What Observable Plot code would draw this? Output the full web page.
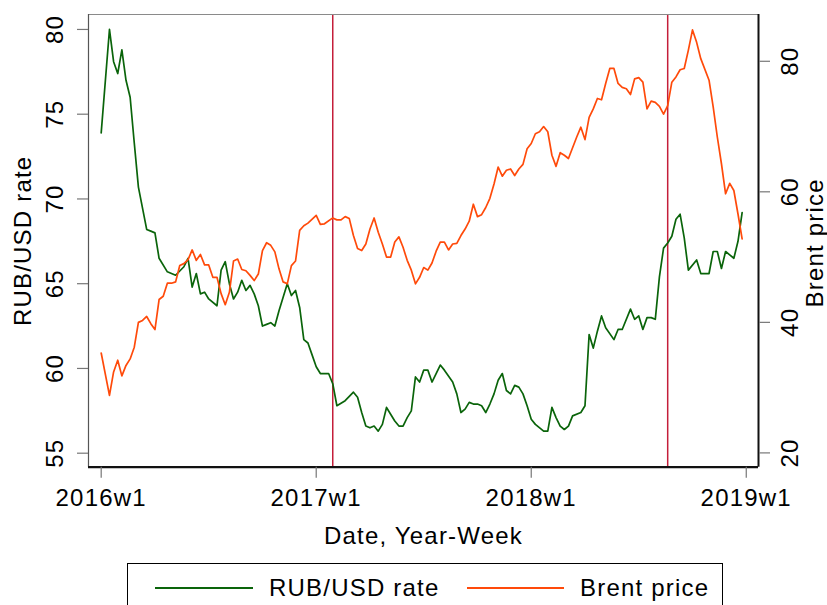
<!DOCTYPE html>
<html><head><meta charset="utf-8">
<script src="https://cdn.jsdelivr.net/npm/d3@7"></script>
<script src="https://cdn.jsdelivr.net/npm/@observablehq/plot@0.6"></script>
<style>
html,body{margin:0;padding:0;background:#fff;overflow:hidden;width:827px;height:605px;}
#chart{position:absolute;left:0;top:0;}
#legend{position:absolute;left:127px;top:563px;width:596px;height:54px;border:1px solid #000;box-sizing:border-box;background:#fff;
  font-family:"Liberation Sans",Arial,sans-serif;font-size:24px;letter-spacing:1.2px;color:#000;}
.sw{position:absolute;top:23px;height:2px;}
.lb{position:absolute;top:10px;line-height:28px;white-space:nowrap;}
</style></head><body>
<div id="chart"></div>
<div id="legend"></div>
<script>
// ---- data (week index: 0 = 2016w1, 52 weeks per year) ----
const rubWeeks = [0,2,3,4,5,6,7,8,9,11,12,13,14,16,17,18,20,21,22,23,24,25,26,28,29,30,31,32,33,34,35,36,37,38,39,40,41,42,43,44,45,46,47,48,49,50,51,52,53,54,55,56,57,59,61,62,63,64,65,66,67,68,69,70,71,72,73,74,75,76,77,78,79,80,81,82,83,85,86,87,88,89,90,91,92,93,94,95,96,97,98,99,100,101,102,103,104,105,107,108,109,110,111,112,113,114,116,117,118,119,120,121,122,124,125,126,128,129,130,131,132,133,134,135,136,137,138,139,140,141,142,144,145,147,148,149,150,151,152,153,154,155];
const rubRate = [73.9,80.0,78.1,77.4,78.8,77.0,76.0,73.3,70.7,68.2,68.1,68.0,66.5,65.7,65.6,65.5,66.0,66.5,64.8,65.6,64.4,64.5,64.1,63.7,65.8,66.3,65.0,64.1,64.5,65.2,64.6,64.9,64.4,63.7,62.5,62.6,62.7,62.5,63.4,64.2,65.0,64.3,64.6,63.6,61.7,61.5,60.8,60.1,59.7,59.7,59.7,59.1,57.8,58.1,58.6,58.3,57.4,56.6,56.5,56.6,56.3,56.7,57.7,57.3,56.9,56.6,56.6,57.1,57.5,59.5,59.2,59.9,59.9,59.2,59.7,60.2,59.9,59.2,58.5,57.4,57.6,58.0,57.9,57.9,57.8,57.4,57.9,58.5,59.3,59.7,58.7,58.5,59.0,58.9,58.5,57.8,57.0,56.7,56.3,56.3,57.7,57.1,56.6,56.4,56.6,57.2,57.4,57.8,62.0,61.2,62.2,63.1,62.4,61.7,62.3,62.3,63.5,62.9,63.1,62.3,63.0,63.0,62.9,65.4,67.1,67.4,67.8,68.8,69.1,67.7,65.8,66.4,65.6,65.6,66.9,66.9,65.9,66.9,66.7,66.5,67.5,69.2];
const brentWeeks = [0,2,3,4,5,6,7,8,9,10,11,12,13,14,15,16,17,18,19,20,21,22,23,24,25,26,27,28,29,30,31,32,33,34,35,36,37,38,39,40,41,42,43,44,45,46,47,48,49,50,52,53,54,56,57,58,59,60,61,62,63,64,65,66,67,68,69,70,71,72,73,74,75,76,77,78,79,80,81,82,83,84,85,86,87,88,89,90,91,92,93,94,95,96,97,98,99,100,101,102,103,104,105,106,107,108,109,110,111,112,113,115,116,117,118,119,120,121,122,123,124,125,126,127,128,129,130,131,132,133,134,135,136,137,138,139,140,141,142,143,144,145,147,148,149,150,151,152,153,154,155];
const brentPrice = [35.3,28.8,32.4,34.2,31.8,33.4,34.4,36.2,40.0,40.3,40.9,39.8,38.9,43.5,44.0,46.0,46.0,46.2,48.7,49.0,49.6,51.1,49.5,50.4,48.8,48.8,46.9,46.9,44.4,42.7,44.6,49.4,49.7,48.1,47.9,47.2,46.4,47.4,51.0,52.2,51.8,50.8,48.2,46.2,45.9,48.7,49.4,54.1,54.8,55.2,56.4,55.0,55.1,56.0,55.7,55.7,56.2,55.9,53.3,51.3,51.0,52.0,54.3,56.0,53.8,52.0,50.0,50.0,52.3,53.1,51.5,49.5,48.0,45.9,46.9,48.4,48.0,49.1,50.9,52.3,52.3,51.1,52.0,52.1,53.3,54.3,55.5,58.1,56.2,56.5,57.6,59.0,61.2,63.8,62.4,63.3,63.5,62.5,63.5,64.2,66.6,67.4,68.9,69.2,70.0,69.2,65.6,63.9,66.0,65.6,65.1,68.4,69.9,68.0,71.4,72.7,74.3,74.1,76.6,78.9,78.9,76.6,76.0,75.8,74.9,77.3,77.5,76.8,72.7,73.9,73.7,73.1,71.9,73.2,76.8,77.6,78.7,78.9,81.7,84.8,82.9,80.4,77.1,73.0,68.4,64.3,59.7,61.3,60.2,56.6,52.8];
const xTickWeeks = [0,52,104,156];
const xTickLabels = ["2016w1","2017w1","2018w1","2019w1"];
const rubTicks = [55,60,65,70,75,80];
const brentTicks = [20,40,60,80];
const eventWeeks = [56,137];
const seriesNames = ["RUB/USD rate","Brent price"];
const seriesColors = ["#0a640a","#ff4a0a"];

// ---- layout ----
const W = 827, H = 560;
const xDom = [-3.07, 158.96];
const yDom = [54.174, 80.882];
const bDom = [17.809, 87.167];
const toR = b => yDom[0] + (b - bDom[0]) * (yDom[1] - yDom[0]) / (bDom[1] - bDom[0]);
const FONT = "Liberation Sans, Arial, sans-serif";
const T = {fontSize: 24, fontFamily: FONT, fill: "#000", textAnchor: "middle", lineAnchor: "middle"};

const rubData = rubWeeks.map((t, i) => ({t, v: rubRate[i]}));
const brentData = brentWeeks.map((t, i) => ({t, v: brentPrice[i]}));

const chart = Plot.plot({
  width: W, height: H,
  marginLeft: 88, marginRight: 69, marginTop: 14, marginBottom: 93.3,
  x: {type: "linear", domain: xDom, label: null},
  y: {type: "linear", domain: yDom, label: null},
  style: {background: "#fff", fontFamily: FONT, overflow: "visible"},
  marks: [
    Plot.ruleX(eventWeeks, {stroke: "#c41e3a", strokeWidth: 1.5}),
    Plot.line(rubData, {x: "t", y: "v", stroke: seriesColors[0], strokeWidth: 1.7}),
    Plot.line(brentData, {x: "t", y: d => toR(d.v), stroke: seriesColors[1], strokeWidth: 1.7}),
    // frame
    Plot.ruleY([yDom[1]], {stroke: "#8a8a8a", strokeWidth: 1.2}),
    Plot.ruleX([xDom[0]], {stroke: "#555", strokeWidth: 1.2}),
    Plot.ruleX([xDom[1]], {stroke: "#111", strokeWidth: 2}),
    Plot.ruleY([yDom[0]], {stroke: "#111", strokeWidth: 2.2}),
    // ticks
    Plot.axisX(xTickWeeks, {anchor: "bottom", tickSize: 11, tickFormat: () => "", stroke: "#777", strokeWidth: 1.2, label: null}),
    Plot.axisY(rubTicks, {anchor: "left", tickSize: 11, tickFormat: () => "", stroke: "#777", strokeWidth: 1.2, label: null}),
    Plot.axisY(brentTicks.map(toR), {anchor: "right", tickSize: 11, tickFormat: () => "", stroke: "#777", strokeWidth: 1.2, label: null}),
    // tick labels
    Plot.text(xTickWeeks, {...T, x: d => d, text: (d, i) => xTickLabels[i], frameAnchor: "bottom", dy: 31}),
    Plot.text(rubTicks, {...T, y: d => d, text: d => String(d), frameAnchor: "left", dx: -33, rotate: -90}),
    Plot.text(brentTicks, {...T, y: d => toR(d), text: d => String(d), frameAnchor: "right", dx: 32, rotate: -90}),
    // axis titles
    Plot.text([seriesNames[0]], {...T, frameAnchor: "left", dx: -65, rotate: -90}),
    Plot.text([seriesNames[1]], {...T, frameAnchor: "right", dx: 57, dy: 2, rotate: -90}),
    Plot.text(["Date, Year-Week"], {...T, frameAnchor: "bottom", dy: 69})
  ]
});
chart.style.letterSpacing = "1.2px";
document.getElementById("chart").appendChild(chart);

// legend below the plot
const lg = document.getElementById("legend");
const pos = [{sw: 27, w: 98, lb: 141}, {sw: 339, w: 97, lb: 452}];
seriesNames.forEach((name, i) => {
  const s = document.createElement("div");
  s.className = "sw";
  s.style.left = pos[i].sw + "px";
  s.style.width = pos[i].w + "px";
  s.style.background = seriesColors[i];
  lg.appendChild(s);
  const l = document.createElement("div");
  l.className = "lb";
  l.style.left = pos[i].lb + "px";
  l.textContent = name;
  lg.appendChild(l);
});
</script>
</body></html>
